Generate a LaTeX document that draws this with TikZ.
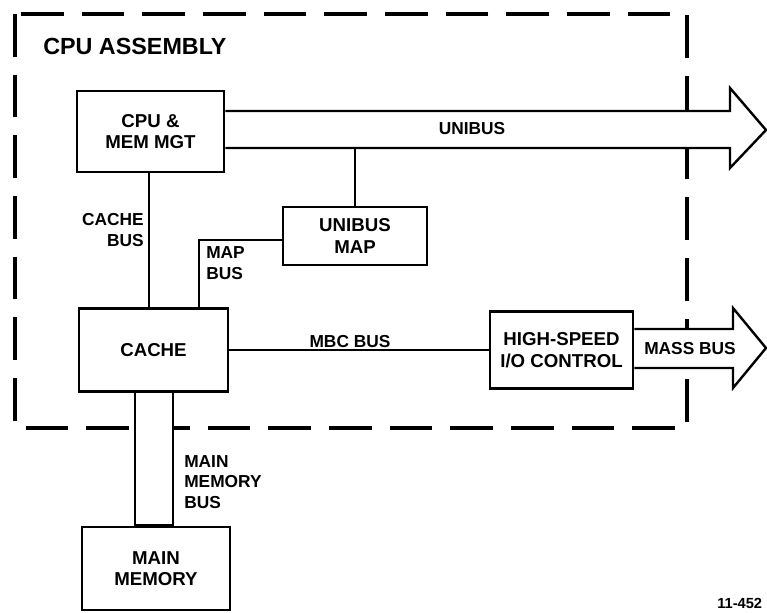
\documentclass[tikz,border=0pt]{standalone}
\usepackage{fontspec}
\setmainfont{Liberation Sans}
\begin{document}
\begin{tikzpicture}[x=0.75pt,y=-0.75pt,
  blk/.style={draw, line width=2.2pt, inner sep=0pt, align=center,
    font=\bfseries\fontsize{14pt}{16pt}\selectfont},
  lbl/.style={inner sep=0pt, font=\bfseries\fontsize{13pt}{15.5pt}\selectfont},
  bus/.style={draw, fill=white, line width=1.8pt, line join=miter},
  wire/.style={line width=1.5pt},
  frame/.style={line width=3.5pt, dash pattern=on 32pt off 13.5pt}]
  \useasboundingbox (0,0) rectangle (767,612);
  \draw[frame] (15,14) rectangle (687,428);
  \node[lbl, anchor=west, font=\bfseries\fontsize{17.5pt}{20pt}\selectfont] (asm) at (43,46) {CPU ASSEMBLY};
  \node[blk, minimum width=110.25pt, minimum height=60.75pt] (cpu) at (150.5,131.5) {CPU \&\\MEM MGT};
  \node[blk, minimum width=108pt, minimum height=43.5pt] (map) at (355,236) {UNIBUS\\MAP};
  \node[blk, minimum width=111.75pt, minimum height=62.25pt] (cache) at (153.5,350) {CACHE};
  \node[blk, minimum width=107.25pt, minimum height=57.75pt] (hsio) at (561.5,350) {HIGH-SPEED\\I/O CONTROL};
  \node[blk, minimum width=111pt, minimum height=62.25pt] (mem) at (156,568.5) {MAIN\\MEMORY};
  \coordinate (unitip) at (766,130);
  \coordinate (masstip) at (766,348);
  \draw[bus] (cpu.east |- 0,111) -- (730,111) -- (730,88) -- (unitip) -- (730,168) -- (730,148) -- (cpu.east |- 0,148);
  \draw[bus] (hsio.east |- 0,329) -- (733,329) -- (733,308) -- (masstip) -- (733,388) -- (733,368) -- (hsio.east |- 0,368);
  \draw[bus] (cache.south -| 135,0) -- (mem.north -| 135,0) -- (mem.north -| 173,0) -- (cache.south -| 173,0);
  \draw[wire] (cpu.south -| 149,0) -- (cache.north -| 149,0);
  \draw[wire] (map.north) -- (map.north |- 0,148);
  \draw[wire] (map.west |- 0,240) -| (cache.north -| 199,0);
  \draw[line width=1.2pt] (cache.east) -- (hsio.west);
  \node[lbl] (unilbl) at (472,129) {UNIBUS};
  \node[lbl, anchor=east, align=right] (cblbl) at (144,230) {CACHE\\BUS};
  \node[lbl, anchor=west, align=left] (mblbl) at (206,263) {MAP\\BUS};
  \node[lbl] (mbclbl) at (350,342) {MBC BUS};
  \node[lbl] (masslbl) at (690,349) {MASS BUS};
  \node[lbl, anchor=west, align=left] (mmlbl) at (184,482) {MAIN\\MEMORY\\BUS};
  \node[lbl, anchor=west, font=\bfseries\fontsize{11pt}{12pt}\selectfont] (fig) at (717,603) {11-452};
\end{tikzpicture}
\end{document}
